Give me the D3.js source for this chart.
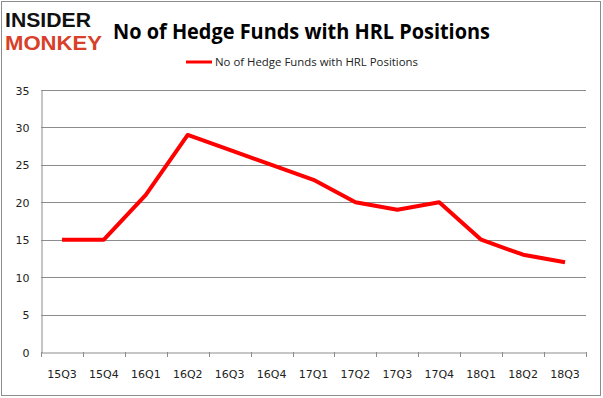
<!DOCTYPE html>
<html>
<head>
<meta charset="utf-8">
<script src="https://cdn.jsdelivr.net/npm/d3@7"></script>
<style>
body { margin: 0; background: #fff; }
svg { display: block; }
</style>
</head>
<body>
<div class="container"></div>
<script>
const WIDTH = 603;
const HEIGHT = 398;
const LEFT = 41;
const RIGHT = 586;
const TOP = 90;
const BOTTOM = 352;

var quarters = ["15Q3","15Q4","16Q1","16Q2","16Q3","16Q4","17Q1","17Q2","17Q3","17Q4","18Q1","18Q2","18Q3"];
var funds = [15, 15, 21, 29, 27, 25, 23, 20, 19, 20, 15, 13, 12];
var yTicks = [0, 5, 10, 15, 20, 25, 30, 35];
var seriesName = "No of Hedge Funds with HRL Positions";
var title = "No of Hedge Funds with HRL Positions";

var svg = d3.select('.container').append('svg')
	.attr('width', WIDTH)
	.attr('height', HEIGHT);

// outer frame
svg.append('rect')
	.attr('x', 1.5).attr('y', 1.5)
	.attr('width', WIDTH - 4).attr('height', HEIGHT - 4)
	.attr('fill', '#fff')
	.attr('stroke', '#8c8c8c')
	.attr('stroke-width', 1);

// logo
svg.append('text')
	.attr('x', 5).attr('y', 26.5)
	.attr('textLength', 86).attr('lengthAdjust', 'spacingAndGlyphs')
	.style('font-family', 'Liberation Sans').style('font-weight', 'bold')
	.style('font-size', '20.5px').attr('fill', '#111')
	.text('INSIDER');
svg.append('text')
	.attr('x', 5).attr('y', 50)
	.attr('textLength', 97).attr('lengthAdjust', 'spacingAndGlyphs')
	.style('font-family', 'Liberation Sans').style('font-weight', 'bold')
	.style('font-size', '20.5px').attr('fill', '#d8402a')
	.text('MONKEY');

// title
svg.append('text')
	.attr('x', 113).attr('y', 39)
	.attr('textLength', 377).attr('lengthAdjust', 'spacingAndGlyphs')
	.style('font-family', 'Open Sans').style('font-weight', 'bold')
	.style('font-size', '21px').attr('fill', '#000')
	.text(title);

// legend
svg.append('line')
	.attr('x1', 186).attr('x2', 212).attr('y1', 62).attr('y2', 62)
	.attr('stroke', '#ff0000').attr('stroke-width', 3);
svg.append('text')
	.attr('x', 215).attr('y', 66)
	.attr('textLength', 203).attr('lengthAdjust', 'spacingAndGlyphs')
	.style('font-family', 'Open Sans').style('font-size', '11px')
	.attr('fill', '#222')
	.text(seriesName);

var xScale = d3.scaleBand().domain(quarters).range([LEFT, RIGHT]);
var yScale = d3.scaleLinear().domain([0, 35]).range([BOTTOM, TOP]);

// gridlines
svg.append('g')
	.selectAll('line').data(yTicks.filter(function(d){ return d > 0; }))
	.enter().append('line')
	.attr('x1', LEFT).attr('x2', RIGHT)
	.attr('y1', function(d){ return Math.round(yScale(d)) + 0.5; })
	.attr('y2', function(d){ return Math.round(yScale(d)) + 0.5; })
	.attr('stroke', '#8c8c8c').attr('stroke-width', 1);

// y axis
var yAxis = d3.axisLeft(yScale).tickValues(yTicks).tickSize(0).tickPadding(12);
var gy = svg.append('g').attr('transform', 'translate(' + (LEFT + 0.5) + ',0.5)').call(yAxis);
gy.select('.domain').attr('stroke', '#8c8c8c');
gy.selectAll('text').style('font-family', 'DejaVu Sans').style('font-size', '11px').attr('fill', '#222');

// x axis
var xAxis = d3.axisBottom(xScale).tickSize(0).tickPadding(18);
var gx = svg.append('g').attr('transform', 'translate(0,' + (Math.round(BOTTOM) + 0.5) + ')').call(xAxis);
gx.select('.domain').attr('stroke', '#8c8c8c');
gx.selectAll('text').style('font-family', 'DejaVu Sans').style('font-size', '11px').attr('fill', '#222');

// category tick marks at band edges
svg.append('g').selectAll('line')
	.data(quarters.concat(['end']))
	.enter().append('line')
	.attr('x1', function(d, i){ return Math.round(LEFT + i * xScale.step()) + 0.5; })
	.attr('x2', function(d, i){ return Math.round(LEFT + i * xScale.step()) + 0.5; })
	.attr('y1', Math.round(BOTTOM)).attr('y2', Math.round(BOTTOM) + 5)
	.attr('stroke', '#8c8c8c');

// line
var line = d3.line()
	.x(function(d, i){ return xScale(quarters[i]) + xScale.bandwidth() / 2; })
	.y(function(d){ return yScale(d); });

svg.append('path')
	.datum(funds)
	.attr('d', line)
	.attr('fill', 'none')
	.attr('stroke', '#ff0000')
	.attr('stroke-width', 4)
	.attr('stroke-linejoin', 'round');
</script>
</body>
</html>
